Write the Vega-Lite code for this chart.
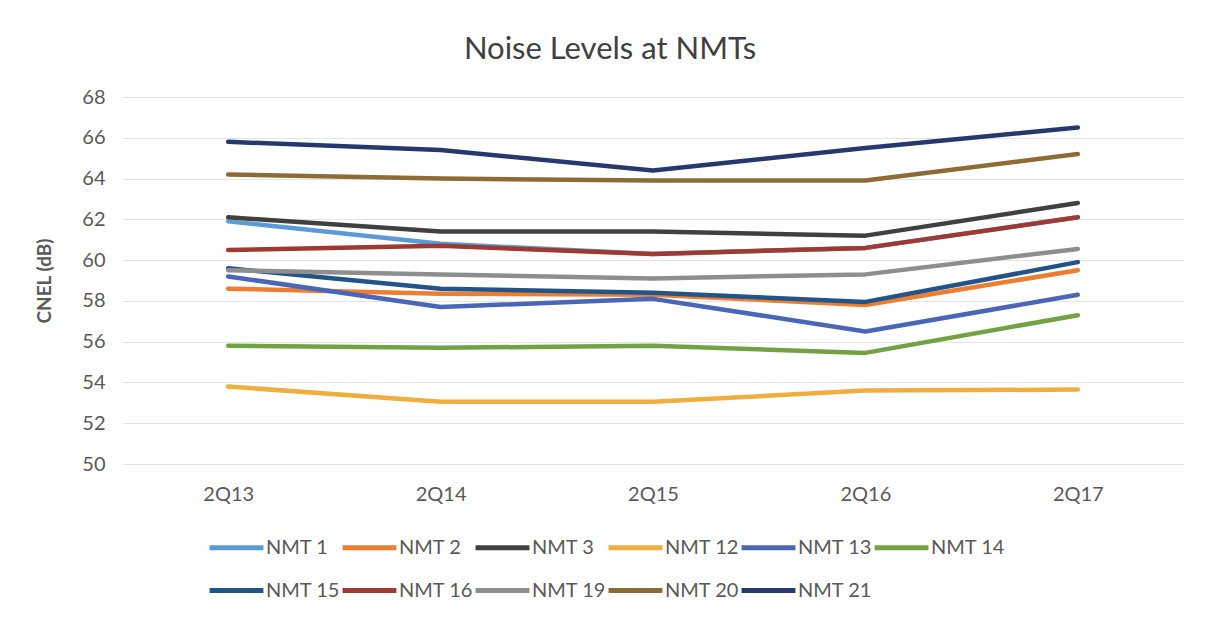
{
  "$schema": "https://vega.github.io/schema/vega-lite/v6.json",
  "autosize": "none",
  "width": 1062,
  "height": 367,
  "padding": {"left": 122, "top": 97, "right": 24, "bottom": 159},
  "background": "white",
  "title": {
    "text": "Noise Levels at NMTs",
    "anchor": "middle",
    "dx": -43,
    "dy": 40,
    "offset": 37,
    "baseline": "alphabetic",
    "font": "Lato",
    "fontSize": 31,
    "fontWeight": "normal",
    "color": "#404040"
  },
  "config": {
    "view": {"stroke": null},
    "font": "Lato"
  },
  "data": {
    "values": [
      {"series": "NMT 1", "quarter": "2Q13", "cnel": 61.9},
      {"series": "NMT 1", "quarter": "2Q14", "cnel": 60.8},
      {"series": "NMT 1", "quarter": "2Q15", "cnel": 60.3},
      {"series": "NMT 1", "quarter": "2Q16", "cnel": 60.6},
      {"series": "NMT 1", "quarter": "2Q17", "cnel": 62.1},
      {"series": "NMT 2", "quarter": "2Q13", "cnel": 58.6},
      {"series": "NMT 2", "quarter": "2Q14", "cnel": 58.35},
      {"series": "NMT 2", "quarter": "2Q15", "cnel": 58.3},
      {"series": "NMT 2", "quarter": "2Q16", "cnel": 57.8},
      {"series": "NMT 2", "quarter": "2Q17", "cnel": 59.5},
      {"series": "NMT 3", "quarter": "2Q13", "cnel": 62.1},
      {"series": "NMT 3", "quarter": "2Q14", "cnel": 61.4},
      {"series": "NMT 3", "quarter": "2Q15", "cnel": 61.4},
      {"series": "NMT 3", "quarter": "2Q16", "cnel": 61.2},
      {"series": "NMT 3", "quarter": "2Q17", "cnel": 62.8},
      {"series": "NMT 12", "quarter": "2Q13", "cnel": 53.8},
      {"series": "NMT 12", "quarter": "2Q14", "cnel": 53.05},
      {"series": "NMT 12", "quarter": "2Q15", "cnel": 53.05},
      {"series": "NMT 12", "quarter": "2Q16", "cnel": 53.6},
      {"series": "NMT 12", "quarter": "2Q17", "cnel": 53.65},
      {"series": "NMT 13", "quarter": "2Q13", "cnel": 59.2},
      {"series": "NMT 13", "quarter": "2Q14", "cnel": 57.7},
      {"series": "NMT 13", "quarter": "2Q15", "cnel": 58.1},
      {"series": "NMT 13", "quarter": "2Q16", "cnel": 56.5},
      {"series": "NMT 13", "quarter": "2Q17", "cnel": 58.3},
      {"series": "NMT 14", "quarter": "2Q13", "cnel": 55.8},
      {"series": "NMT 14", "quarter": "2Q14", "cnel": 55.7},
      {"series": "NMT 14", "quarter": "2Q15", "cnel": 55.8},
      {"series": "NMT 14", "quarter": "2Q16", "cnel": 55.45},
      {"series": "NMT 14", "quarter": "2Q17", "cnel": 57.3},
      {"series": "NMT 15", "quarter": "2Q13", "cnel": 59.6},
      {"series": "NMT 15", "quarter": "2Q14", "cnel": 58.6},
      {"series": "NMT 15", "quarter": "2Q15", "cnel": 58.4},
      {"series": "NMT 15", "quarter": "2Q16", "cnel": 57.95},
      {"series": "NMT 15", "quarter": "2Q17", "cnel": 59.9},
      {"series": "NMT 16", "quarter": "2Q13", "cnel": 60.5},
      {"series": "NMT 16", "quarter": "2Q14", "cnel": 60.7},
      {"series": "NMT 16", "quarter": "2Q15", "cnel": 60.3},
      {"series": "NMT 16", "quarter": "2Q16", "cnel": 60.6},
      {"series": "NMT 16", "quarter": "2Q17", "cnel": 62.1},
      {"series": "NMT 19", "quarter": "2Q13", "cnel": 59.5},
      {"series": "NMT 19", "quarter": "2Q14", "cnel": 59.3},
      {"series": "NMT 19", "quarter": "2Q15", "cnel": 59.1},
      {"series": "NMT 19", "quarter": "2Q16", "cnel": 59.3},
      {"series": "NMT 19", "quarter": "2Q17", "cnel": 60.55},
      {"series": "NMT 20", "quarter": "2Q13", "cnel": 64.2},
      {"series": "NMT 20", "quarter": "2Q14", "cnel": 64.0},
      {"series": "NMT 20", "quarter": "2Q15", "cnel": 63.9},
      {"series": "NMT 20", "quarter": "2Q16", "cnel": 63.9},
      {"series": "NMT 20", "quarter": "2Q17", "cnel": 65.2},
      {"series": "NMT 21", "quarter": "2Q13", "cnel": 65.8},
      {"series": "NMT 21", "quarter": "2Q14", "cnel": 65.4},
      {"series": "NMT 21", "quarter": "2Q15", "cnel": 64.4},
      {"series": "NMT 21", "quarter": "2Q16", "cnel": 65.5},
      {"series": "NMT 21", "quarter": "2Q17", "cnel": 66.5}
    ]
  },
  "mark": {"type": "line", "strokeWidth": 4.5, "strokeCap": "round", "strokeJoin": "round"},
  "encoding": {
    "x": {
      "field": "quarter",
      "type": "ordinal",
      "sort": ["2Q13", "2Q14", "2Q15", "2Q16", "2Q17"],
      "scale": {"type": "point", "padding": 0.5},
      "axis": {
        "title": null,
        "domain": false,
        "ticks": false,
        "grid": false,
        "labelAngle": 0,
        "labelFont": "Lato",
        "labelFontSize": 20,
        "labelColor": "#595959",
        "labelPadding": 20
      }
    },
    "y": {
      "field": "cnel",
      "type": "quantitative",
      "scale": {"domain": [50, 68], "zero": false, "nice": false},
      "axis": {
        "values": [50, 52, 54, 56, 58, 60, 62, 64, 66, 68],
        "title": "CNEL (dB)",
        "titleFont": "Lato",
        "titleFontSize": 19,
        "titleFontWeight": "bold",
        "titleColor": "#595959",
        "titlePadding": 27,
        "domain": false,
        "ticks": false,
        "grid": true,
        "gridColor": "#e4e4e4",
        "gridWidth": 1,
        "labelFont": "Lato",
        "labelFontSize": 20,
        "labelColor": "#595959",
        "labelPadding": 17
      }
    },
    "color": {
      "field": "series",
      "type": "nominal",
      "sort": ["NMT 1", "NMT 2", "NMT 3", "NMT 12", "NMT 13", "NMT 14", "NMT 15", "NMT 16", "NMT 19", "NMT 20", "NMT 21"],
      "scale": {
        "domain": ["NMT 1", "NMT 2", "NMT 3", "NMT 12", "NMT 13", "NMT 14", "NMT 15", "NMT 16", "NMT 19", "NMT 20", "NMT 21"],
        "range": ["#5B9BD5", "#ED7D31", "#404040", "#F0AE3E", "#4966B8", "#72A244", "#235488", "#9E3A32", "#8E8E8E", "#8E6B34", "#27386F"]
      },
      "legend": {
        "title": null,
        "orient": "none",
        "legendX": 85,
        "legendY": 421,
        "direction": "horizontal",
        "columns": 6,
        "symbolType": "stroke",
        "symbolSize": 2900,
        "symbolStrokeWidth": 5,
        "labelFont": "Lato",
        "labelFontSize": 20,
        "labelColor": "#595959",
        "labelOffset": 0,
        "columnPadding": -9,
        "rowPadding": 3
      }
    }
  }
}
